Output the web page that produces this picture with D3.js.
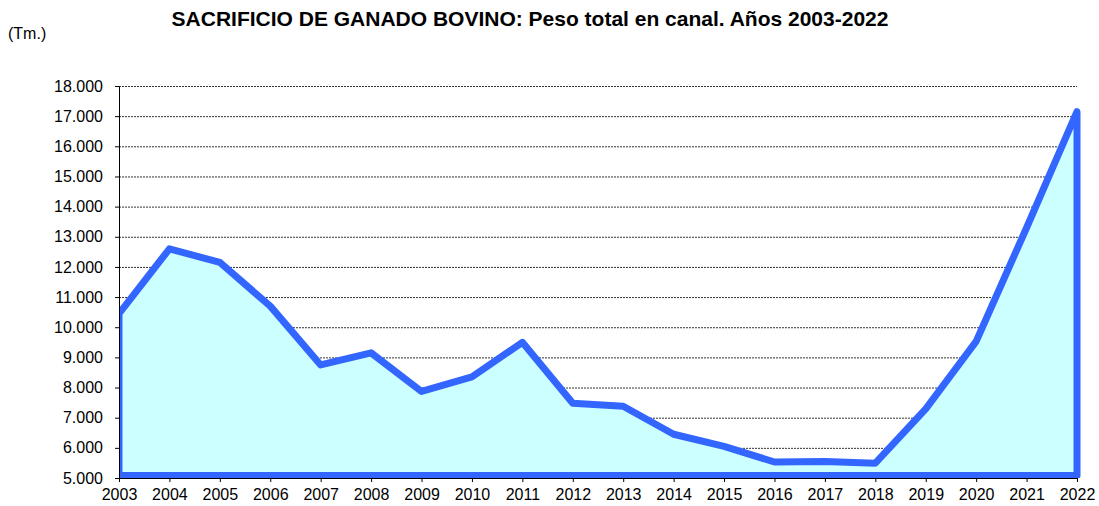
<!DOCTYPE html>
<html>
<head>
<meta charset="utf-8">
<script src="https://cdn.jsdelivr.net/npm/d3@7"></script>
<style>
  body { margin: 0; background: #fff; }
  svg { display: block; font-family: 'Liberation Sans', Arial, sans-serif; }
</style>
</head>
<body>
<div id="chart"></div>
<script>
'use strict'

var years = [
  2003, 2004, 2005, 2006, 2007, 2008, 2009, 2010, 2011, 2012,
  2013, 2014, 2015, 2016, 2017, 2018, 2019, 2020, 2021, 2022
]
var pesoTm = [
  10450, 12600, 12150, 10700, 8750, 9150, 7870, 8350, 9500, 7480,
  7380, 6450, 6050, 5530, 5550, 5490, 7290, 9530, 13300, 17150
]
var yTicks = [5000, 6000, 7000, 8000, 9000, 10000, 11000, 12000, 13000,
  14000, 15000, 16000, 17000, 18000]

var title = 'SACRIFICIO DE GANADO BOVINO: Peso total en canal. Años 2003-2022'
var unitLabel = '(Tm.)'

var width = 1099
var height = 506
var margin = { top: 86, right: 22, bottom: 28, left: 119 }
var innerW = width - margin.left - margin.right
var innerH = height - margin.top - margin.bottom

var data = years.map(function(y, i) {
  return { year: y, value: pesoTm[i] }
})

var fmt = function(v) {
  return d3.format(',')(v).replace(/,/g, '.')
}

var x = d3.scaleLinear()
  .domain([years[0], years[years.length - 1]])
  .range([0, innerW])

var y = d3.scaleLinear()
  .domain([5000, 18000])
  .range([innerH, 0])

var svg = d3.select('#chart')
  .append('svg')
  .attr('width', width)
  .attr('height', height)

svg.append('text')
  .attr('x', 530)
  .attr('y', 26)
  .attr('text-anchor', 'middle')
  .attr('font-size', '21px')
  .attr('font-weight', 'bold')
  .attr('fill', '#000')
  .text(title)

svg.append('text')
  .attr('x', 8)
  .attr('y', 39)
  .attr('font-size', '16px')
  .attr('fill', '#000')
  .text(unitLabel)

var g = svg.append('g')
  .attr('transform', 'translate(' + margin.left + ',' + margin.top + ')')

// dotted gridlines
g.append('g')
  .selectAll('line')
  .data(yTicks.slice(1))
  .enter()
  .append('line')
  .attr('x1', 0)
  .attr('x2', innerW)
  .attr('y1', function(d) { return y(d) + 0.5 })
  .attr('y2', function(d) { return y(d) + 0.5 })
  .attr('stroke', '#333')
  .attr('stroke-width', 1)
  .attr('stroke-dasharray', '2,1')

g.append('clipPath')
  .attr('id', 'plotClip')
  .append('rect')
  .attr('x', 0)
  .attr('y', -10)
  .attr('width', innerW + 10)
  .attr('height', innerH + 10)

var area = d3.area()
  .x(function(d) { return x(d.year) })
  .y0(innerH - 2.5)
  .y1(function(d) { return y(d.value) })

g.append('path')
  .datum(data)
  .attr('clip-path', 'url(#plotClip)')
  .attr('d', function(d) { return area(d) + 'Z' })
  .attr('fill', '#CCFFFF')
  .attr('stroke', '#3366FF')
  .attr('stroke-width', 7)
  .attr('stroke-linejoin', 'round')

var yAxis = d3.axisLeft(y)
  .tickValues(yTicks)
  .tickSize(4)
  .tickFormat(fmt)

var xAxis = d3.axisBottom(x)
  .tickValues(years)
  .tickSize(4)
  .tickFormat(d3.format('d'))

var ya = g.append('g').call(yAxis)
ya.select('.domain').attr('stroke', '#000')
ya.selectAll('.tick line').attr('stroke', '#000')
ya.selectAll('text')
  .attr('x', -16)
  .attr('font-family', "'Liberation Sans', Arial, sans-serif")
  .attr('font-size', '16px')
  .attr('fill', '#000')

var xa = g.append('g')
  .attr('transform', 'translate(0,' + innerH + ')')
  .call(xAxis)
xa.select('.domain').attr('stroke', '#000')
xa.selectAll('.tick line').attr('stroke', '#000')
xa.selectAll('text')
  .attr('y', 11)
  .attr('font-family', "'Liberation Sans', Arial, sans-serif")
  .attr('font-size', '16px')
  .attr('fill', '#000')
</script>
</body>
</html>
